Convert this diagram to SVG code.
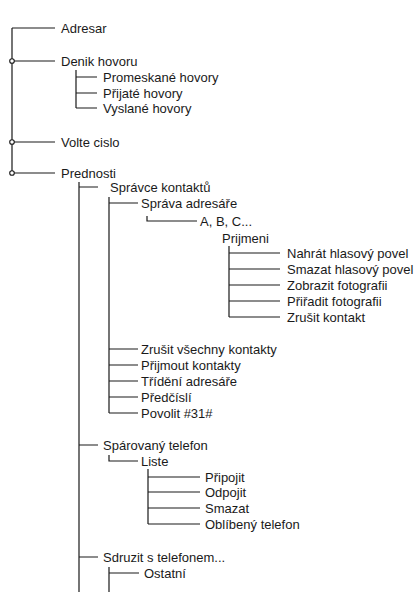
<svg xmlns="http://www.w3.org/2000/svg" width="420" height="592" viewBox="0 0 420 592">
<style>
text{font-family:"Liberation Sans",Arial,sans-serif;font-size:13px;fill:#1a1a1a}
.c path{fill:none;stroke:#1a1a1a;stroke-width:1.2}
.c circle{fill:#fff;stroke:#1a1a1a;stroke-width:1.1}
</style>
<rect width="420" height="592" fill="#fff"/>
<g class="c" id="connectors">
<path d="M12 28V173M12 28H55M12 61H55M12 142H55M12 173H55"/>
<path d="M76 70V108M76 77H97M76 93H97M76 108H97"/>
<path d="M79 182V592M79 187H98M79 445H98M79 557H98"/>
<path d="M109 197V413M109 203H138M109 349H138M109 365H138M109 381H138M109 397H138M109 413H138"/>
<path d="M147 216V221H197"/>
<path d="M229 246V317M229 253H280M229 269H280M229 285H280M229 301H280M229 317H280"/>
<path d="M109 455V461H138"/>
<path d="M148 469V524M148 477H200M148 492H200M148 508H200M148 524H200"/>
<path d="M109 567V592M109 573H139"/>
<circle cx="12" cy="61" r="2.3"/>
<circle cx="12" cy="142" r="2.3"/>
<circle cx="12" cy="173" r="2.3"/>
</g>
<g id="n-adresar"><text x="61" y="32.7">Adresar</text></g>
<g id="n-denik"><text x="61" y="65.7">Denik hovoru</text></g>
<g id="n-promeskane"><text x="103" y="81.7">Promeskané hovory</text></g>
<g id="n-prijate"><text x="103" y="97.7">Přijaté hovory</text></g>
<g id="n-vyslane"><text x="103" y="112.7">Vyslané hovory</text></g>
<g id="n-volte"><text x="61" y="146.7">Volte cislo</text></g>
<g id="n-prednosti"><text x="61" y="177.7">Prednosti</text></g>
<g id="n-spravce"><text x="110" y="191.7">Správce kontaktů</text></g>
<g id="n-sprava"><text x="141" y="207.7">Správa adresáře</text></g>
<g id="n-abc"><text x="200" y="225.7">A, B, C...</text></g>
<g id="n-prijmeni"><text x="222" y="242.7">Prijmeni</text></g>
<g id="n-nahrat"><text x="287" y="257.7">Nahrát hlasový povel</text></g>
<g id="n-smazat-hlas"><text x="287" y="273.7">Smazat hlasový povel</text></g>
<g id="n-zobrazit"><text x="287" y="289.7">Zobrazit fotografii</text></g>
<g id="n-priradit"><text x="287" y="305.7">Přiřadit fotografii</text></g>
<g id="n-zrusit-kontakt"><text x="287" y="321.7">Zrušit kontakt</text></g>
<g id="n-zrusit-vse"><text x="141" y="353.7">Zrušit všechny kontakty</text></g>
<g id="n-prijmout"><text x="141" y="369.7">Přijmout kontakty</text></g>
<g id="n-trideni"><text x="141" y="385.7">Třídění adresáře</text></g>
<g id="n-predcisli"><text x="141" y="401.7">Předčíslí</text></g>
<g id="n-povolit"><text x="141" y="417.7">Povolit #31#</text></g>
<g id="n-sparovany"><text x="103" y="449.7">Spárovaný telefon</text></g>
<g id="n-liste"><text x="141" y="465.7">Liste</text></g>
<g id="n-pripojit"><text x="205" y="481.7">Připojit</text></g>
<g id="n-odpojit"><text x="205" y="496.7">Odpojit</text></g>
<g id="n-smazat"><text x="205" y="512.7">Smazat</text></g>
<g id="n-oblibeny"><text x="205" y="528.7">Oblíbený telefon</text></g>
<g id="n-sdruzit"><text x="103" y="561.7">Sdruzit s telefonem...</text></g>
<g id="n-ostatni"><text x="144" y="577.7">Ostatní</text></g>
</svg>
